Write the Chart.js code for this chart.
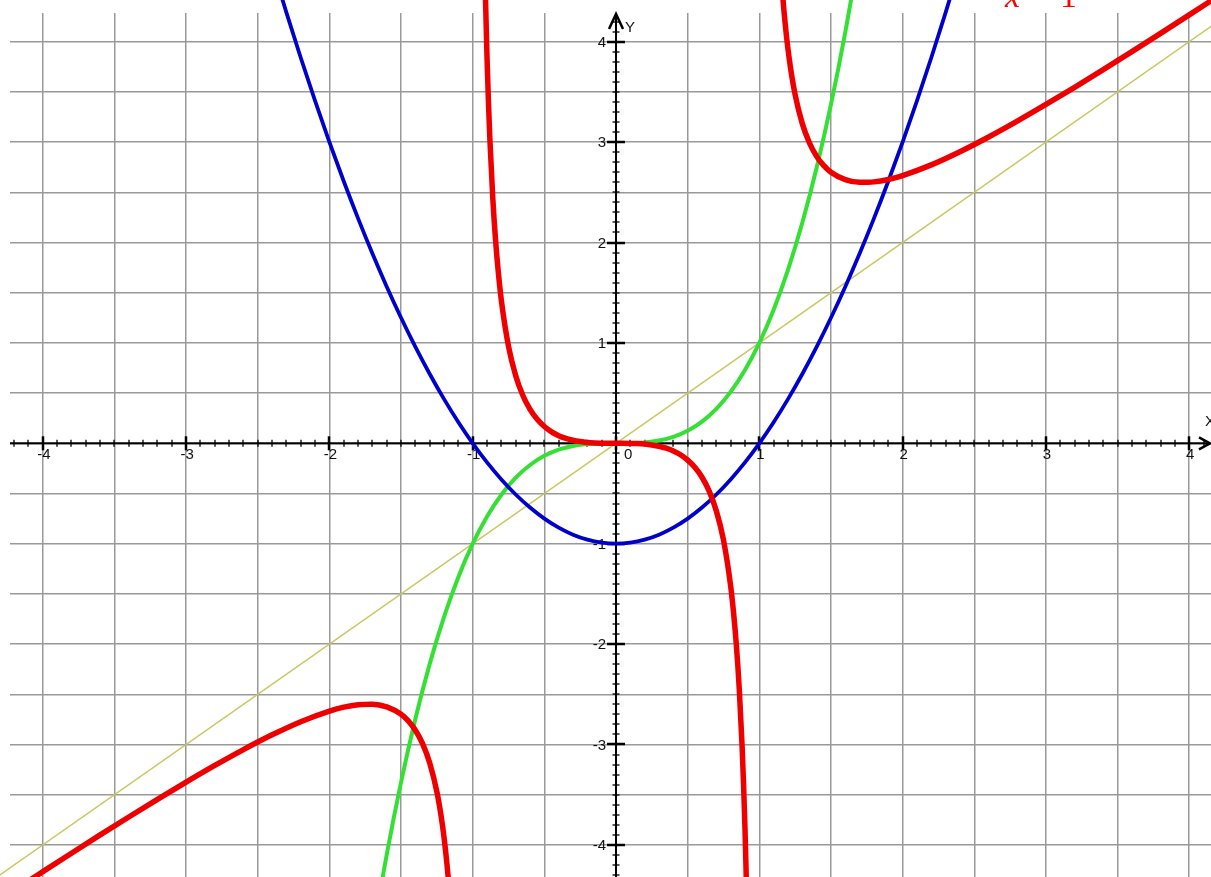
<!DOCTYPE html>
<html>
<head>
<meta charset="utf-8">
<script src="https://cdn.jsdelivr.net/npm/chart.js@4"></script>
<style>
  html, body { margin: 0; padding: 0; background: #fff; }
  canvas { display: block; }
</style>
</head>
<body>
<canvas id="plot" width="1211" height="877"></canvas>
<script>
// grid lines and axis labels
const xGrid = [-4, -3.5, -3, -2.5, -2, -1.5, -1, -0.5, 0, 0.5, 1, 1.5, 2, 2.5, 3, 3.5, 4];
const yGrid = [-4, -3.5, -3, -2.5, -2, -1.5, -1, -0.5, 0, 0.5, 1, 1.5, 2, 2.5, 3, 3.5, 4];
const xLabels = [-4, -3, -2, -1, 0, 1, 2, 3, 4];
const yLabels = [-4, -3, -2, -1, 1, 2, 3, 4];

// yellow line
const lineX = [-4.5, 4.5];
const lineY = [-4.5, 4.5];

// blue parabola
const blueX = [-2.4, -2.3, -2.2, -2.1, -2.0, -1.9, -1.8, -1.7, -1.6, -1.5, -1.4, -1.3, -1.2, -1.1, -1.0,
  -0.9, -0.8, -0.7, -0.6, -0.5, -0.4, -0.3, -0.2, -0.1, 0, 0.1, 0.2, 0.3, 0.4, 0.5, 0.6, 0.7, 0.8, 0.9,
  1.0, 1.1, 1.2, 1.3, 1.4, 1.5, 1.6, 1.7, 1.8, 1.9, 2.0, 2.1, 2.2, 2.3, 2.4];
const blueY = [4.76, 4.29, 3.84, 3.41, 3.0, 2.61, 2.24, 1.89, 1.56, 1.25, 0.96, 0.69, 0.44, 0.21, 0,
  -0.19, -0.36, -0.51, -0.64, -0.75, -0.84, -0.91, -0.96, -0.99, -1, -0.99, -0.96, -0.91, -0.84, -0.75, -0.64, -0.51, -0.36, -0.19,
  0, 0.21, 0.44, 0.69, 0.96, 1.25, 1.56, 1.89, 2.24, 2.61, 3.0, 3.41, 3.84, 4.29, 4.76];

// green cubic
const greenX = [-1.7, -1.6, -1.5, -1.4, -1.3, -1.2, -1.1, -1.0, -0.9, -0.8, -0.7, -0.6, -0.5, -0.4, -0.3, -0.2, -0.1,
  0, 0.1, 0.2, 0.3, 0.4, 0.5, 0.6, 0.7, 0.8, 0.9, 1.0, 1.1, 1.2, 1.3, 1.4, 1.5, 1.6, 1.7];
const greenY = [-4.913, -4.096, -3.375, -2.744, -2.197, -1.728, -1.331, -1, -0.729, -0.512, -0.343, -0.216, -0.125, -0.064, -0.027, -0.008, -0.001,
  0, 0.001, 0.008, 0.027, 0.064, 0.125, 0.216, 0.343, 0.512, 0.729, 1, 1.331, 1.728, 2.197, 2.744, 3.375, 4.096, 4.913];

// red curve, three branches
const redLeftX = [-4.4, -4.2, -4.0, -3.8, -3.6, -3.4, -3.2, -3.0, -2.8, -2.6, -2.4, -2.2, -2.0, -1.9, -1.8, -1.7,
  -1.6, -1.5, -1.45, -1.4, -1.35, -1.3, -1.25, -1.22, -1.2, -1.18, -1.16, -1.14, -1.12];
const redLeftY = [-4.64, -4.452, -4.267, -4.083, -3.901, -3.722, -3.546, -3.375, -3.209, -3.051, -2.904, -2.773, -2.667, -2.628, -2.604, -2.599,
  -2.626, -2.7, -2.765, -2.858, -2.991, -3.184, -3.472, -3.718, -3.927, -4.187, -4.516, -4.945, -5.523];

const redMidX = [-0.92, -0.91, -0.9, -0.89, -0.88, -0.86, -0.84, -0.82, -0.8, -0.75, -0.7, -0.65, -0.6, -0.55, -0.5,
  -0.45, -0.4, -0.35, -0.3, -0.25, -0.2, -0.15, -0.1, -0.05, 0, 0.05, 0.1, 0.15, 0.2, 0.25, 0.3, 0.35, 0.4, 0.45,
  0.5, 0.55, 0.6, 0.65, 0.7, 0.75, 0.8, 0.82, 0.84, 0.86, 0.88, 0.89, 0.9, 0.91, 0.92];
const redMidY = [5.07, 4.384, 3.837, 3.391, 3.021, 2.443, 2.013, 1.683, 1.422, 0.964, 0.673, 0.476, 0.338, 0.239, 0.167,
  0.114, 0.076, 0.049, 0.03, 0.017, 0.008, 0.003, 0.001, 0.0001, 0, -0.0001, -0.001, -0.003, -0.008, -0.017, -0.03, -0.049, -0.076, -0.114,
  -0.167, -0.239, -0.338, -0.476, -0.673, -0.964, -1.422, -1.683, -2.013, -2.443, -3.021, -3.391, -3.837, -4.384, -5.07];

const redRightX = [1.12, 1.14, 1.16, 1.18, 1.2, 1.22, 1.25, 1.3, 1.35, 1.4, 1.45, 1.5, 1.6, 1.7, 1.8, 1.9, 2.0,
  2.2, 2.4, 2.6, 2.8, 3.0, 3.2, 3.4, 3.6, 3.8, 4.0, 4.2];
const redRightY = [5.523, 4.945, 4.516, 4.187, 3.927, 3.718, 3.472, 3.184, 2.991, 2.858, 2.765, 2.7, 2.626, 2.599, 2.604, 2.628, 2.667,
  2.773, 2.904, 3.051, 3.209, 3.375, 3.546, 3.722, 3.901, 4.083, 4.267, 4.452];

function points(xs, ys) {
  return xs.map((x, i) => ({ x: x, y: ys[i] }));
}

function curve(xs, ys, color, width) {
  return {
    data: points(xs, ys),
    showLine: true,
    borderColor: color,
    borderWidth: width,
    pointRadius: 0,
    cubicInterpolationMode: 'monotone',
    clip: { left: 10, top: 13, right: 0, bottom: 0 }
  };
}

// black axes through the origin, with ticks and numbers
const originAxes = {
  id: 'originAxes',
  beforeDatasetsDraw(chart) {
    const { ctx, chartArea: a, scales: { x, y } } = chart;
    const x0 = x.getPixelForValue(0);
    const y0 = y.getPixelForValue(0);
    ctx.save();
    ctx.strokeStyle = '#000';
    ctx.lineWidth = 2;
    ctx.beginPath();
    ctx.moveTo(a.left, y0);
    ctx.lineTo(a.right - 1, y0);
    ctx.moveTo(x0, a.bottom);
    ctx.lineTo(x0, a.top + 1);
    ctx.stroke();

    // ticks every 0.1, bigger on whole numbers
    for (let i = -42; i <= 41; i++) {
      const px = Math.round(x.getPixelForValue(i / 10));
      const len = i % 10 === 0 ? 7 : 3.5;
      ctx.lineWidth = i % 10 === 0 ? 2.5 : 1.3;
      ctx.beginPath();
      ctx.moveTo(px, y0 - len);
      ctx.lineTo(px, y0 + len);
      ctx.stroke();
    }
    for (let i = -43; i <= 42; i++) {
      const py = Math.round(y.getPixelForValue(i / 10));
      const len = i % 10 === 0 ? 9 : 3.5;
      ctx.lineWidth = i % 10 === 0 ? 2.5 : 1.3;
      ctx.beginPath();
      ctx.moveTo(x0 - len, py);
      ctx.lineTo(x0 + len, py);
      ctx.stroke();
    }

    // arrow heads
    ctx.lineWidth = 2.5;
    ctx.beginPath();
    ctx.moveTo(x0 - 7, a.top + 16);
    ctx.lineTo(x0, a.top + 1);
    ctx.lineTo(x0 + 7, a.top + 16);
    ctx.moveTo(a.right - 12, y0 - 6);
    ctx.lineTo(a.right - 1, y0);
    ctx.lineTo(a.right - 12, y0 + 6);
    ctx.stroke();

    ctx.fillStyle = '#111';
    ctx.font = '15px "Liberation Sans", Arial, sans-serif';
    ctx.textBaseline = 'alphabetic';
    xLabels.forEach(v => {
      const px = x.getPixelForValue(v);
      if (v === 0) {
        ctx.textAlign = 'left';
        ctx.fillText('0', px + 8, y0 + 16);
      } else {
        ctx.textAlign = 'center';
        ctx.fillText(String(v), px + 1, y0 + 16);
      }
    });
    ctx.textAlign = 'right';
    ctx.textBaseline = 'middle';
    yLabels.forEach(v => {
      ctx.fillText(String(v), x0 - 10, y.getPixelForValue(v) + 1);
    });

    ctx.font = '15px "Liberation Sans", Arial, sans-serif';
    ctx.textAlign = 'left';
    ctx.fillText('Y', x0 + 9, a.top + 15);
    ctx.fillText('X', a.right - 6, y0 - 21);
    ctx.restore();
  },
  afterDraw(chart) {
    // red formula, only its lower part is inside the picture
    const ctx = chart.ctx;
    ctx.save();
    ctx.fillStyle = '#ff0000';
    ctx.textBaseline = 'alphabetic';
    ctx.textAlign = 'left';
    ctx.font = 'italic 34px "Liberation Serif", "Times New Roman", serif';
    ctx.fillText('x', 1005, 7);
    ctx.font = '34px "Liberation Serif", "Times New Roman", serif';
    ctx.fillText('\u2212', 1031, 7);
    ctx.fillText('1', 1060, 7);
    ctx.restore();
  }
};

const gridScale = (min, max, values) => ({
  type: 'linear',
  min: min,
  max: max,
  ticks: { display: false },
  border: { display: false },
  grid: { color: '#999', lineWidth: 1.5, drawTicks: false },
  afterBuildTicks: scale => { scale.ticks = values.map(v => ({ value: v })); }
});

new Chart(document.getElementById('plot').getContext('2d'), {
  type: 'scatter',
  data: {
    datasets: [
      curve(redLeftX, redLeftY, '#ee0000', 5.5),
      curve(redMidX, redMidY, '#ee0000', 5.5),
      curve(redRightX, redRightY, '#ee0000', 5.5),
      curve(blueX, blueY, '#0000cc', 3.8),
      curve(greenX, greenY, '#33e033', 4),
      curve(lineX, lineY, '#c8c860', 1.5)
    ]
  },
  options: {
    responsive: false,
    devicePixelRatio: 1,
    animation: false,
    events: [],
    layout: { padding: { left: 10, top: 13, right: 0, bottom: 0 } },
    plugins: { legend: { display: false }, tooltip: { enabled: false } },
    scales: {
      x: gridScale(-4.229, 4.152, xGrid),
      y: gridScale(-4.32, 4.286, yGrid)
    }
  },
  plugins: [originAxes]
});
</script>
</body>
</html>
